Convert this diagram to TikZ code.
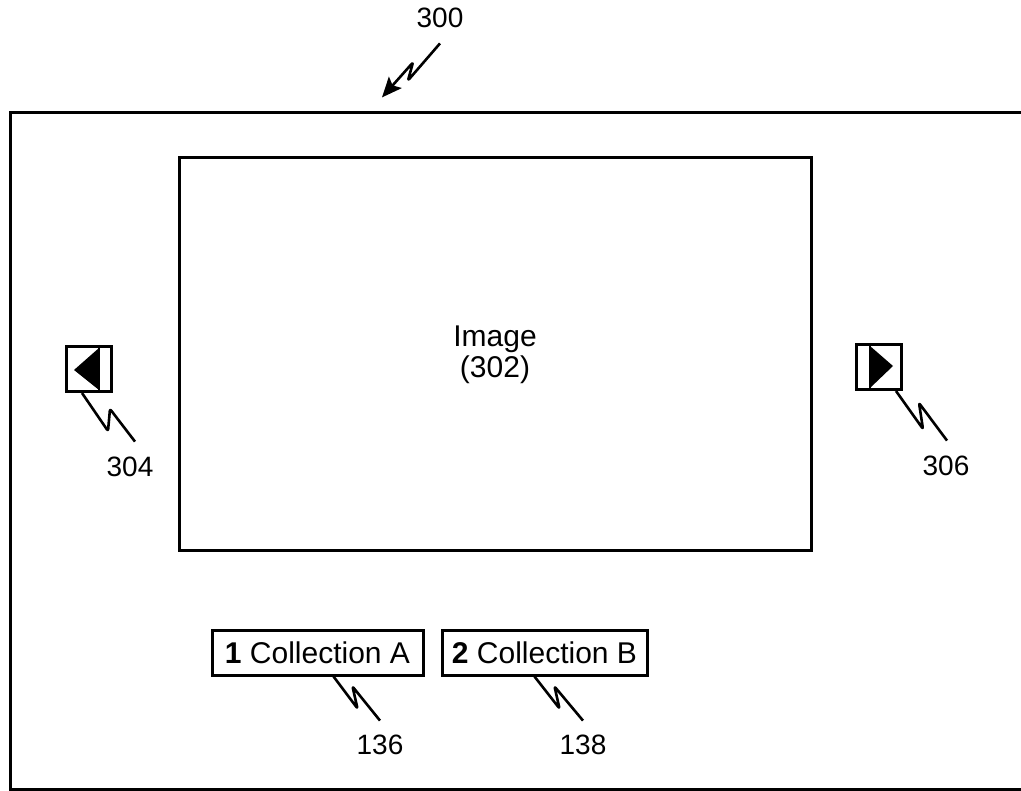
\documentclass[tikz,border=0pt]{standalone}
\usepackage{fontspec}
\setmainfont{Liberation Sans}
\usetikzlibrary{arrows.meta,positioning,calc}

\begin{document}
\begin{tikzpicture}[x=1pt, y=-1pt, font=\fontsize{30}{31}\selectfont, line width=3pt,
  box/.style={draw, line width=3pt, inner sep=0pt},
  navbox/.style={box, minimum size=45pt},
  colbox/.style={box, minimum height=45pt, inner sep=6pt},
  lead/.style={line width=2.6pt, line join=round, rounded corners=2pt},
  num/.style={inner sep=0pt, font=\fontsize{28}{30}\selectfont}]
\useasboundingbox (0,0) rectangle (1021,791);
% outer screen, cut by the page on the right and at the bottom
\draw (1040,113) -- (10,113) -- (10,789) -- (1040,789);
\node[box, minimum width=632pt, minimum height=393pt, align=center] (img) at (495,354.5) {Image\\(302)};
% navigation buttons
\node[navbox] (prev) at (89,369) {};
\draw[line width=2pt] ([xshift=-14pt]prev.north east) -- ([xshift=-14pt]prev.south east);
\fill ([xshift=-14pt,yshift=-3pt]prev.north east) -- ([xshift=-14pt,yshift=3pt]prev.south east) -- ([xshift=9pt,yshift=-1pt]prev.west) -- cycle;
\node[navbox] (next) at (879,367) {};
\draw[line width=2pt] ([xshift=15pt]next.north west) -- ([xshift=15pt]next.south west);
\fill ([xshift=15pt,yshift=-3pt]next.north west) -- ([xshift=15pt,yshift=3pt]next.south west) -- ([xshift=-10pt,yshift=1pt]next.east) -- cycle;
% collections
\node[colbox, minimum width=211pt] (colA) at (317.5,652.5) {\textbf{1} Collection A};
\node[colbox, minimum width=205pt] (colB) at (544.5,652.5) {\textbf{2} Collection B};
% reference numerals
\node[num] (n300) at (440,18) {300};
\node[num] (n304) at (130,467) {304};
\node[num] (n306) at (946,466) {306};
\node[num] (n136) at (380,745) {136};
\node[num] (n138) at (583,745) {138};
% leaders
\draw[lead, -{Stealth[length=20pt, width=17pt, inset=4pt]}] ([yshift=-14pt]n300.south) -- ++(-32,37) -- ++(5,-18) -- ++(-31,35);
\draw[lead] ([xshift=-7pt]prev.south) -- ++(26,38) -- ++(2,-22) -- ([xshift=5pt,yshift=14pt]n304.north);
\draw[lead] ([xshift=-7pt]next.south east) -- ++(27,38) -- ++(-4,-26) -- ([xshift=1pt,yshift=14pt]n306.north);
\draw[lead] ([xshift=16pt]colA.south) -- ++(24,32) -- ++(-5,-22) -- ([yshift=13pt]n136.north);
\draw[lead] ([xshift=-10pt]colB.south) -- ++(25,32) -- ++(-5,-22) -- ([yshift=13pt]n138.north);
\end{tikzpicture}
\end{document}
